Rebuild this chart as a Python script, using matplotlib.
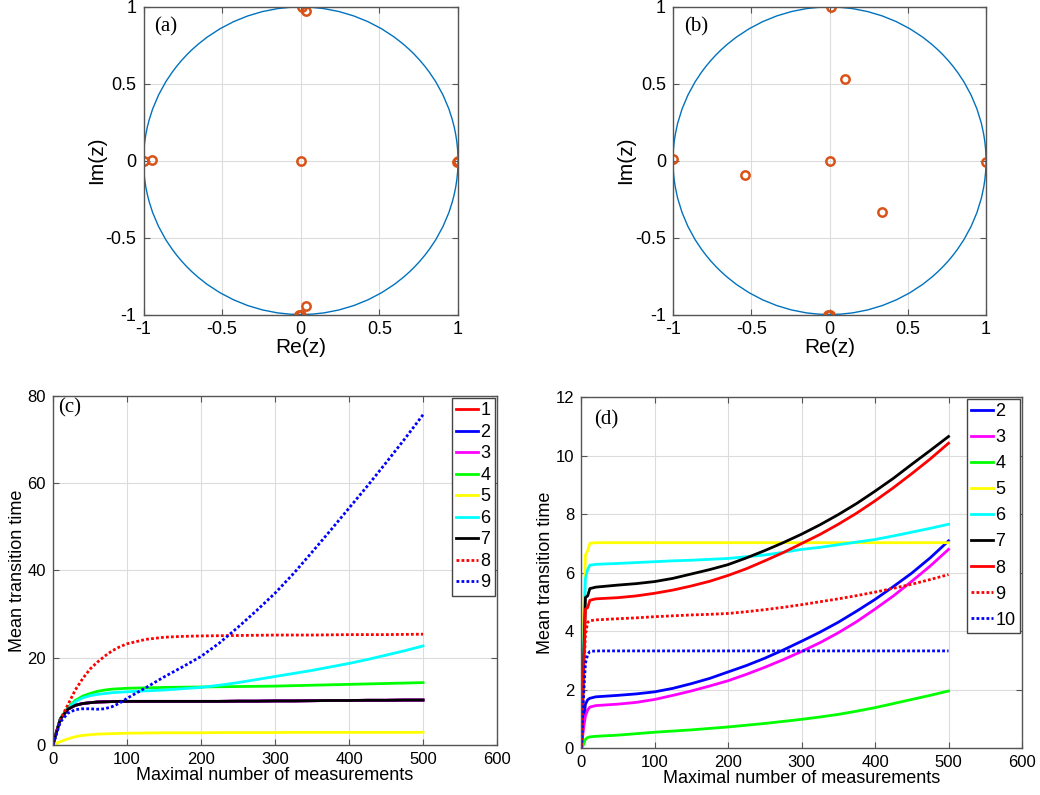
import matplotlib
matplotlib.use("Agg")
import matplotlib.pyplot as plt
from matplotlib.patches import Circle

plt.rcParams['font.family'] = ['Liberation Sans']

# poles/zeros, panel (a) and (b)
a_re = [0.0, -1.0, -0.945, 1.0, 0.995, 0.008, 0.035, 0.0, -0.012, 0.035]
a_im = [0.0, 0.0, 0.005, 0.0, -0.01, 1.0, 0.975, -1.0, -1.0, -0.945]
b_re = [0.01, 0.10, -1.0, -0.537, 0.0, 1.0, 0.335, 0.0, -0.01]
b_im = [1.0, 0.534, 0.01, -0.09, 0.0, -0.005, -0.335, -1.0, -1.0]

# panel (c)
c_x = [0, 5, 10, 20, 30, 40, 50, 60, 70, 80, 90, 100, 125, 150, 175, 200, 225, 250, 275, 300,
       325, 350, 375, 400, 425, 450, 475, 500]
c_y7 = [0, 3.2, 6.0, 8.2, 9.1, 9.5, 9.7, 9.85, 9.9, 9.95, 10.0, 10.0, 10.0, 10.0, 10.0, 10.0, 10.0, 10.05,
        10.05, 10.1, 10.1, 10.15, 10.2, 10.2, 10.25, 10.25, 10.3, 10.3]
c_y1 = c_y7  # 1-3 sit under curve 7
c_y2 = c_y7
c_y3 = c_y7
c_y4 = [0, 3.2, 6.1, 8.6, 10.2, 11.2, 11.8, 12.3, 12.6, 12.8, 12.9, 13.0, 13.1, 13.2, 13.25, 13.3, 13.35,
        13.4, 13.45, 13.5, 13.6, 13.7, 13.8, 13.9, 14.0, 14.1, 14.2, 14.3]
c_y5 = [0, 0.4, 0.8, 1.4, 1.9, 2.2, 2.35, 2.5, 2.55, 2.6, 2.65, 2.7, 2.75, 2.8, 2.8, 2.8, 2.85, 2.85,
        2.85, 2.85, 2.9, 2.9, 2.9, 2.9, 2.9, 2.9, 2.9, 2.9]
c_y6 = [0, 3.1, 6.0, 8.4, 9.9, 10.8, 11.3, 11.6, 11.8, 12.0, 12.1, 12.2, 12.4, 12.6, 12.9, 13.2, 13.7,
        14.3, 15.0, 15.7, 16.4, 17.1, 17.9, 18.7, 19.6, 20.6, 21.6, 22.7]
c_y8 = [0, 3.0, 5.9, 9.2, 12.6, 15.2, 17.4, 19.0, 20.4, 21.6, 22.5, 23.2, 24.2, 24.7, 24.9, 25.0, 25.05,
        25.1, 25.15, 25.2, 25.2, 25.2, 25.25, 25.3, 25.3, 25.3, 25.35, 25.4]
c_y9 = [0, 2.8, 5.3, 7.3, 8.1, 8.3, 8.3, 8.2, 8.3, 8.8, 9.6, 10.7, 13.1, 15.6, 17.9, 20.3, 23.4, 27.0,
        30.8, 34.8, 39.3, 44.2, 49.2, 54.3, 59.4, 64.7, 70.1, 75.7]

# panel (d)
d_x = [0, 1, 3, 6, 9, 12, 20, 50, 75, 100, 125, 150, 175, 200, 225, 250, 275, 300, 325, 350, 375,
       400, 425, 450, 475, 500]
d_y2 = [0, 0.1, 0.8, 1.5, 1.65, 1.7, 1.75, 1.8, 1.85, 1.92, 2.04, 2.2, 2.38, 2.6, 2.82, 3.07, 3.35,
        3.65, 3.96, 4.3, 4.68, 5.08, 5.52, 5.98, 6.5, 7.08]
d_y3 = [0, 0.1, 0.6, 1.1, 1.3, 1.4, 1.45, 1.5, 1.56, 1.66, 1.8, 1.95, 2.12, 2.3, 2.52, 2.76, 3.02,
        3.3, 3.6, 3.94, 4.32, 4.75, 5.2, 5.7, 6.22, 6.79]
d_y4 = [0, 0.0, 0.1, 0.3, 0.36, 0.38, 0.4, 0.44, 0.49, 0.54, 0.58, 0.62, 0.67, 0.72, 0.78, 0.84, 0.91,
        0.98, 1.06, 1.15, 1.26, 1.38, 1.52, 1.66, 1.8, 1.95]
d_y5 = [0, 0.2, 4.0, 6.6, 6.75, 7.0, 7.02, 7.02, 7.02, 7.02, 7.02, 7.02, 7.02, 7.02, 7.02, 7.02, 7.02,
        7.02, 7.02, 7.02, 7.02, 7.02, 7.02, 7.02, 7.02, 7.02]
d_y6 = [0, 0.2, 3.0, 5.8, 6.1, 6.25, 6.28, 6.31, 6.34, 6.37, 6.4, 6.42, 6.45, 6.48, 6.54, 6.6, 6.69,
        6.79, 6.86, 6.95, 7.04, 7.13, 7.25, 7.38, 7.51, 7.65]
d_y7 = [0, 0.2, 2.5, 5.15, 5.2, 5.45, 5.5, 5.57, 5.62, 5.69, 5.8, 5.95, 6.1, 6.27, 6.5, 6.75, 7.02,
        7.31, 7.63, 7.98, 8.36, 8.78, 9.22, 9.7, 10.17, 10.65]
d_y8 = [0, 0.2, 2.2, 4.75, 4.8, 5.05, 5.1, 5.14, 5.2, 5.29, 5.4, 5.54, 5.7, 5.9, 6.13, 6.4, 6.68,
        6.99, 7.3, 7.65, 8.03, 8.45, 8.9, 9.38, 9.88, 10.42]
d_y9 = [0, 0.2, 2.0, 3.9, 4.3, 4.35, 4.38, 4.42, 4.45, 4.49, 4.52, 4.55, 4.57, 4.6, 4.66, 4.73, 4.81,
        4.9, 5.0, 5.1, 5.21, 5.33, 5.46, 5.6, 5.76, 5.93]
d_y10 = [0, 0.3, 1.6, 2.9, 3.2, 3.3, 3.32, 3.32, 3.32, 3.32, 3.32, 3.32, 3.32, 3.32, 3.32, 3.32, 3.32,
         3.32, 3.32, 3.32, 3.32, 3.32, 3.32, 3.32, 3.32, 3.32]

DOT = (0, (1, 0.8))
GRID = "#dcdcdc"
EDGE = "#555555"


def style_ax(ax, size):
    ax.grid(True, color=GRID, lw=0.8)
    ax.set_axisbelow(True)
    ax.tick_params(direction="in", top=True, right=True, labelsize=size, length=4, pad=5, color=EDGE)
    for s in ax.spines.values():
        s.set_color(EDGE); s.set_linewidth(1.0)


def pz_plot(ax, re, im, tag):
    ax.add_patch(Circle((0, 0), 1, fill=False, color="#0072BD", lw=1.0))
    ax.plot(re, im, "o", mfc="none", mec="#D95319", ms=6, mew=1.8, ls="none")
    ax.set_xlim(-1, 1); ax.set_ylim(-1, 1)
    ticks = [-1, -0.5, 0, 0.5, 1]; labs = ["-1", "-0.5", "0", "0.5", "1"]
    ax.set_xticks(ticks); ax.set_yticks(ticks)
    ax.set_xticklabels(labs); ax.set_yticklabels(labs)
    ax.set_xlabel("Re(z)", fontsize=15, labelpad=0); ax.set_ylabel("Im(z)", fontsize=15, labelpad=0)
    style_ax(ax, 13)
    ax.text(0.035, 0.935, tag, transform=ax.transAxes, fontsize=15, family="Liberation Serif", va="center")


def legend(ax, spacing):
    ax.legend(loc="upper right", fontsize=13, handlelength=1.2, handletextpad=0.15, labelspacing=spacing,
              borderpad=0.25, borderaxespad=0.1, fancybox=False, framealpha=1, edgecolor="#444444")


fig = plt.figure(figsize=(10.4, 7.95), dpi=100)
ax_a = fig.add_axes([0.138, 0.6044, 0.3024, 0.3868])
ax_b = fig.add_axes([0.6471, 0.6044, 0.301, 0.3868])
ax_c = fig.add_axes([0.051, 0.0629, 0.4269, 0.439])
ax_d = fig.add_axes([0.5587, 0.0591, 0.424, 0.4415])

pz_plot(ax_a, a_re, a_im, "(a)")
pz_plot(ax_b, b_re, b_im, "(b)")

# (c)
c_series = [(c_y1, "#FF0000", "-", "1"), (c_y2, "#0000FF", "-", "2"), (c_y3, "#FF00FF", "-", "3"),
            (c_y4, "#00FF00", "-", "4"), (c_y5, "#FFFF00", "-", "5"), (c_y6, "#00FFFF", "-", "6"),
            (c_y7, "#000000", "-", "7"), (c_y8, "#FF0000", DOT, "8"), (c_y9, "#0000FF", DOT, "9")]
for y, c, ls, lab in c_series:
    ax_c.plot(c_x, y, color=c, ls=ls, lw=2, label=lab)
ax_c.set_xlim(0, 600); ax_c.set_ylim(0, 80)
ax_c.set_xticks(range(0, 601, 100)); ax_c.set_yticks(range(0, 81, 20))
ax_c.set_xlabel("Maximal number of measurements", fontsize=13, labelpad=0)
ax_c.set_ylabel("Mean transition time", fontsize=13, labelpad=1)
style_ax(ax_c, 12)
ax_c.text(0.012, 0.965, "(c)", transform=ax_c.transAxes, fontsize=15, family="Liberation Serif", va="center")
legend(ax_c, 0.25)

# (d)
d_series = [(d_y2, "#0000FF", "-", "2"), (d_y3, "#FF00FF", "-", "3"), (d_y4, "#00FF00", "-", "4"),
            (d_y5, "#FFFF00", "-", "5"), (d_y6, "#00FFFF", "-", "6"), (d_y7, "#000000", "-", "7"),
            (d_y8, "#FF0000", "-", "8"), (d_y9, "#FF0000", DOT, "9"), (d_y10, "#0000FF", DOT, "10")]
for y, c, ls, lab in d_series:
    ax_d.plot(d_x, y, color=c, ls=ls, lw=2, label=lab)
ax_d.set_xlim(0, 600); ax_d.set_ylim(0, 12)
ax_d.set_xticks(range(0, 601, 100)); ax_d.set_yticks(range(0, 13, 2))
ax_d.set_xlabel("Maximal number of measurements", fontsize=13, labelpad=0)
ax_d.set_ylabel("Mean transition time", fontsize=13, labelpad=1)
style_ax(ax_d, 12)
ax_d.text(0.03, 0.935, "(d)", transform=ax_d.transAxes, fontsize=15, family="Liberation Serif", va="center")
legend(ax_d, 0.5)

fig.savefig("out.png", dpi=100)
plt.close(fig)
